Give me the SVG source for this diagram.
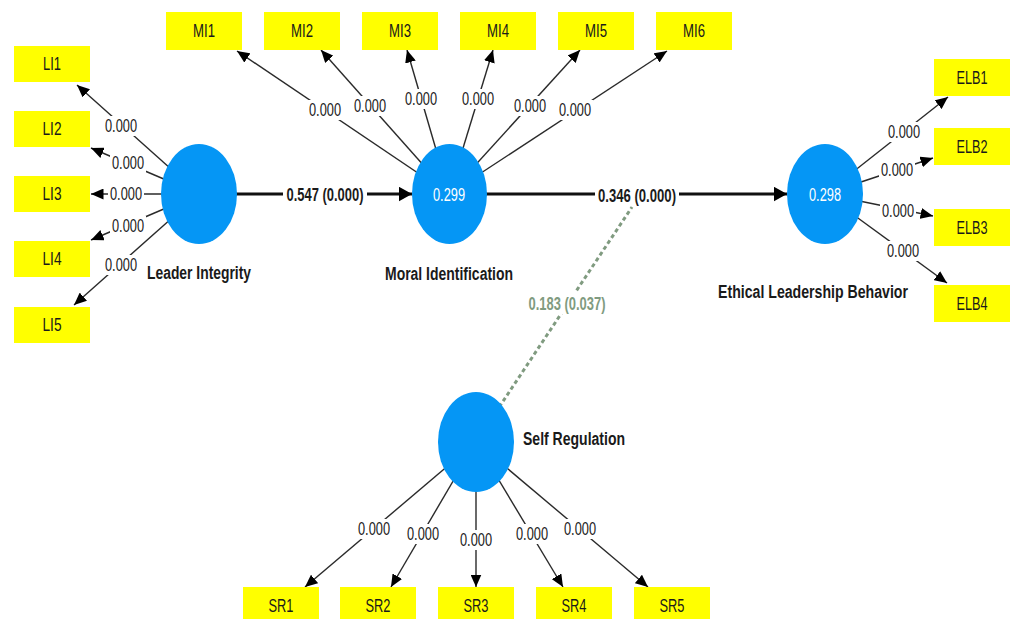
<svg xmlns="http://www.w3.org/2000/svg" width="1014" height="619" viewBox="0 0 1014 619">
<style>
text{font-family:"Liberation Sans Narrow","Arial Narrow","Liberation Sans",Arial,sans-serif;font-size:17.5px;fill:#1a1a1a;text-anchor:middle}
.box{fill:#ffff00}
.lv{fill:#0596f5}
.ind{stroke:#2a2a2a;stroke-width:1.4;fill:none;marker-end:url(#ah)}
.path{stroke:#111;stroke-width:3;fill:none;marker-end:url(#ahb)}
.mod{stroke:#809b80;stroke-width:3;stroke-dasharray:4 3;fill:none}
.bg{fill:#fff}
.b{font-weight:bold}
.w{fill:#fff}
.g{fill:#809b80;font-weight:bold}
</style>
<defs>
<marker id="ah" markerUnits="userSpaceOnUse" markerWidth="13" markerHeight="11" refX="12.5" refY="5.5" orient="auto"><path d="M0,0 L12.5,5.5 L0,11 z" fill="#000"/></marker>
<marker id="ahb" markerUnits="userSpaceOnUse" markerWidth="14" markerHeight="16" refX="13.5" refY="7.5" orient="auto"><path d="M0,0 L13.5,7.5 L0,15 z" fill="#000"/></marker>
</defs>
<rect width="1014" height="619" fill="#fff"/>
<g id="connectors">
<line class="ind" x1="199" y1="194" x2="77" y2="85"/>
<line class="ind" x1="199" y1="194" x2="91" y2="148"/>
<line class="ind" x1="199" y1="194" x2="91" y2="194"/>
<line class="ind" x1="199" y1="194" x2="91" y2="240"/>
<line class="ind" x1="199" y1="194" x2="74" y2="305"/>
<line class="ind" x1="449" y1="194" x2="237" y2="51"/>
<line class="ind" x1="449" y1="194" x2="321" y2="50"/>
<line class="ind" x1="449" y1="194" x2="407" y2="50"/>
<line class="ind" x1="449" y1="194" x2="493" y2="50"/>
<line class="ind" x1="449" y1="194" x2="580" y2="50"/>
<line class="ind" x1="449" y1="194" x2="667" y2="51"/>
<line class="ind" x1="825" y1="194" x2="948" y2="97"/>
<line class="ind" x1="825" y1="194" x2="933" y2="158"/>
<line class="ind" x1="825" y1="194" x2="933" y2="216"/>
<line class="ind" x1="825" y1="194" x2="947" y2="283"/>
<line class="ind" x1="476" y1="442" x2="305" y2="587"/>
<line class="ind" x1="476" y1="442" x2="391" y2="587"/>
<line class="ind" x1="476" y1="442" x2="476" y2="587"/>
<line class="ind" x1="476" y1="442" x2="563" y2="587"/>
<line class="ind" x1="476" y1="442" x2="648" y2="587"/>
<line class="path" x1="199" y1="194" x2="412" y2="194"/>
<line class="path" x1="449" y1="194" x2="787" y2="194"/>
<line class="mod" x1="476" y1="442" x2="632" y2="207"/>
<g id="labels">
<rect class="bg" x="103" y="116" width="36" height="20"/><text x="121" y="132" textLength="32" lengthAdjust="spacingAndGlyphs">0.000</text>
<rect class="bg" x="110" y="153" width="36" height="20"/><text x="128" y="169" textLength="32" lengthAdjust="spacingAndGlyphs">0.000</text>
<rect class="bg" x="108" y="184" width="36" height="20"/><text x="126" y="200" textLength="32" lengthAdjust="spacingAndGlyphs">0.000</text>
<rect class="bg" x="110" y="216" width="36" height="20"/><text x="128" y="232" textLength="32" lengthAdjust="spacingAndGlyphs">0.000</text>
<rect class="bg" x="103" y="255" width="36" height="20"/><text x="121" y="271" textLength="32" lengthAdjust="spacingAndGlyphs">0.000</text>
<rect class="bg" x="307" y="100" width="36" height="20"/><text x="325" y="116" textLength="32" lengthAdjust="spacingAndGlyphs">0.000</text>
<rect class="bg" x="352" y="96" width="36" height="20"/><text x="370" y="112" textLength="32" lengthAdjust="spacingAndGlyphs">0.000</text>
<rect class="bg" x="403" y="89" width="36" height="20"/><text x="421" y="105" textLength="32" lengthAdjust="spacingAndGlyphs">0.000</text>
<rect class="bg" x="460" y="89" width="36" height="20"/><text x="478" y="105" textLength="32" lengthAdjust="spacingAndGlyphs">0.000</text>
<rect class="bg" x="512" y="96" width="36" height="20"/><text x="530" y="112" textLength="32" lengthAdjust="spacingAndGlyphs">0.000</text>
<rect class="bg" x="557" y="100" width="36" height="20"/><text x="575" y="116" textLength="32" lengthAdjust="spacingAndGlyphs">0.000</text>
<rect class="bg" x="886" y="122" width="36" height="20"/><text x="904" y="138" textLength="32" lengthAdjust="spacingAndGlyphs">0.000</text>
<rect class="bg" x="879" y="160" width="36" height="20"/><text x="897" y="176" textLength="32" lengthAdjust="spacingAndGlyphs">0.000</text>
<rect class="bg" x="880" y="201" width="36" height="20"/><text x="898" y="217" textLength="32" lengthAdjust="spacingAndGlyphs">0.000</text>
<rect class="bg" x="885" y="241" width="36" height="20"/><text x="903" y="257" textLength="32" lengthAdjust="spacingAndGlyphs">0.000</text>
<rect class="bg" x="356" y="519" width="36" height="20"/><text x="374" y="535" textLength="32" lengthAdjust="spacingAndGlyphs">0.000</text>
<rect class="bg" x="405" y="524" width="36" height="20"/><text x="423" y="540" textLength="32" lengthAdjust="spacingAndGlyphs">0.000</text>
<rect class="bg" x="458" y="530" width="36" height="20"/><text x="476" y="546" textLength="32" lengthAdjust="spacingAndGlyphs">0.000</text>
<rect class="bg" x="514" y="524" width="36" height="20"/><text x="532" y="540" textLength="32" lengthAdjust="spacingAndGlyphs">0.000</text>
<rect class="bg" x="562" y="519" width="36" height="20"/><text x="580" y="535" textLength="32" lengthAdjust="spacingAndGlyphs">0.000</text>
<rect class="bg" x="283" y="183" width="84" height="22"/><text class="b" x="325" y="200.5" textLength="77" lengthAdjust="spacingAndGlyphs">0.547 (0.000)</text>
<rect class="bg" x="595" y="184" width="84" height="22"/><text class="b" x="637" y="201.5" textLength="78" lengthAdjust="spacingAndGlyphs">0.346 (0.000)</text>
<rect class="bg" x="525" y="292" width="84" height="22"/><text class="g" x="567" y="309.5" textLength="77" lengthAdjust="spacingAndGlyphs">0.183 (0.037)</text>
</g>
</g>
<g id="LI">
<ellipse class="lv" cx="199" cy="194" rx="38" ry="50"/>
<text class="b" x="199" y="278.5" textLength="104" lengthAdjust="spacingAndGlyphs">Leader Integrity</text>
</g>
<g id="MI">
<ellipse class="lv" cx="449.5" cy="194" rx="37.5" ry="50"/>
<text class="w" x="449" y="200.5" textLength="32" lengthAdjust="spacingAndGlyphs">0.299</text>
<text class="b" x="449" y="279.5" textLength="128" lengthAdjust="spacingAndGlyphs">Moral Identification</text>
</g>
<g id="ELB">
<ellipse class="lv" cx="825" cy="194" rx="38" ry="50"/>
<text class="w" x="825" y="200.5" textLength="32" lengthAdjust="spacingAndGlyphs">0.298</text>
<text class="b" x="813" y="297.5" textLength="190" lengthAdjust="spacingAndGlyphs">Ethical Leadership Behavior</text>
</g>
<g id="SR">
<ellipse class="lv" cx="476" cy="442" rx="38" ry="50"/>
<text class="b" x="574" y="444.5" textLength="102" lengthAdjust="spacingAndGlyphs">Self Regulation</text>
</g>
<g id="LI1"><rect class="box" x="14" y="46" width="76" height="36"/><text x="52" y="70" textLength="18" lengthAdjust="spacingAndGlyphs">LI1</text></g>
<g id="LI2"><rect class="box" x="14" y="111" width="76" height="36"/><text x="52" y="135" textLength="19" lengthAdjust="spacingAndGlyphs">LI2</text></g>
<g id="LI3"><rect class="box" x="14" y="176" width="76" height="36"/><text x="52" y="200" textLength="19" lengthAdjust="spacingAndGlyphs">LI3</text></g>
<g id="LI4"><rect class="box" x="14" y="241" width="76" height="36"/><text x="52" y="265" textLength="19" lengthAdjust="spacingAndGlyphs">LI4</text></g>
<g id="LI5"><rect class="box" x="14" y="307" width="76" height="36"/><text x="52" y="331" textLength="19" lengthAdjust="spacingAndGlyphs">LI5</text></g>
<g id="MI1"><rect class="box" x="166" y="12" width="76" height="38"/><text x="204" y="37" textLength="22" lengthAdjust="spacingAndGlyphs">MI1</text></g>
<g id="MI2"><rect class="box" x="264" y="12" width="76" height="38"/><text x="302" y="37" textLength="22" lengthAdjust="spacingAndGlyphs">MI2</text></g>
<g id="MI3"><rect class="box" x="362" y="12" width="76" height="38"/><text x="400" y="37" textLength="22" lengthAdjust="spacingAndGlyphs">MI3</text></g>
<g id="MI4"><rect class="box" x="460" y="12" width="76" height="38"/><text x="498" y="37" textLength="22" lengthAdjust="spacingAndGlyphs">MI4</text></g>
<g id="MI5"><rect class="box" x="558" y="12" width="76" height="38"/><text x="596" y="37" textLength="22" lengthAdjust="spacingAndGlyphs">MI5</text></g>
<g id="MI6"><rect class="box" x="656" y="12" width="76" height="38"/><text x="694" y="37" textLength="22" lengthAdjust="spacingAndGlyphs">MI6</text></g>
<g id="ELB1"><rect class="box" x="934" y="59" width="76" height="37"/><text x="972" y="83.5" textLength="31" lengthAdjust="spacingAndGlyphs">ELB1</text></g>
<g id="ELB2"><rect class="box" x="934" y="128" width="76" height="37"/><text x="972" y="152.5" textLength="31" lengthAdjust="spacingAndGlyphs">ELB2</text></g>
<g id="ELB3"><rect class="box" x="934" y="209" width="76" height="37"/><text x="972" y="233.5" textLength="31" lengthAdjust="spacingAndGlyphs">ELB3</text></g>
<g id="ELB4"><rect class="box" x="934" y="285" width="76" height="37"/><text x="972" y="309.5" textLength="31" lengthAdjust="spacingAndGlyphs">ELB4</text></g>
<g id="SR1"><rect class="box" x="243" y="587" width="76" height="36"/><text x="281" y="612" textLength="25" lengthAdjust="spacingAndGlyphs">SR1</text></g>
<g id="SR2"><rect class="box" x="340" y="587" width="76" height="36"/><text x="378" y="612" textLength="25" lengthAdjust="spacingAndGlyphs">SR2</text></g>
<g id="SR3"><rect class="box" x="438" y="587" width="76" height="36"/><text x="476" y="612" textLength="25" lengthAdjust="spacingAndGlyphs">SR3</text></g>
<g id="SR4"><rect class="box" x="536" y="587" width="76" height="36"/><text x="574" y="612" textLength="25" lengthAdjust="spacingAndGlyphs">SR4</text></g>
<g id="SR5"><rect class="box" x="634" y="587" width="76" height="36"/><text x="672" y="612" textLength="25" lengthAdjust="spacingAndGlyphs">SR5</text></g>
</svg>
